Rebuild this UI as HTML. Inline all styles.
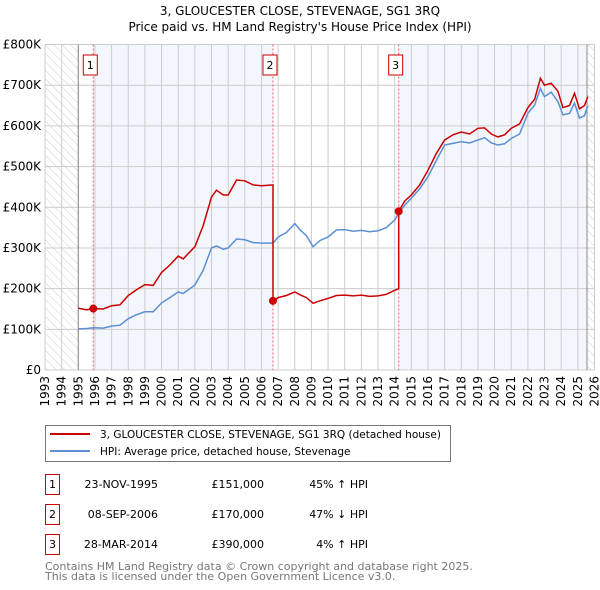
<!DOCTYPE html>
<html><head><meta charset="utf-8"><style>
body{margin:0;background:#fff;font-family:"DejaVu Sans","Liberation Sans",sans-serif;}
#wrap{position:relative;width:600px;height:590px;overflow:hidden;}
</style></head><body><div id="wrap">
<svg id="chart" width="600" height="590" xmlns="http://www.w3.org/2000/svg" font-family="DejaVu Sans, Liberation Sans, sans-serif"></svg>
</div>
<script>
const years=[1995.0,1995.5,1995.9,1996.5,1997.0,1997.5,1998.0,1998.5,1999.0,1999.5,2000.0,2000.5,2001.0,2001.3,2002.0,2002.5,2003.0,2003.3,2003.7,2004.0,2004.5,2005.0,2005.5,2006.0,2006.69,2006.69,2007.0,2007.5,2008.0,2008.3,2008.7,2009.1,2009.5,2010.0,2010.5,2011.0,2011.5,2012.0,2012.5,2013.0,2013.5,2014.0,2014.24,2014.24,2014.6,2015.0,2015.5,2016.0,2016.5,2017.0,2017.5,2018.0,2018.5,2019.0,2019.4,2019.8,2020.2,2020.6,2021.0,2021.5,2022.0,2022.4,2022.75,2023.0,2023.4,2023.8,2024.1,2024.5,2024.8,2025.1,2025.4,2025.6];
const hpiValues=[101,102,104,103,108,110,126,136,143,143,165,178,192,188,209,245,300,305,297,300,322,320,313,312,312,312,327,338,360,345,330,303,318,327,344,345,341,343,340,342,350,369,385,385,405,422,445,475,515,553,557,561,558,565,571,558,553,556,569,580,631,651,692,672,683,660,627,631,656,619,625,649];
const priceValues=[152,148,151,150,158,160,183,197,210,208,240,258,280,273,303,355,425,442,430,430,467,465,455,453,455,170,178,183,192,185,178,164,170,176,183,184,182,184,181,182,186,196,200,390,415,430,455,491,532,565,578,585,580,594,595,580,573,578,594,605,645,665,717,700,705,685,645,650,680,642,650,672];
const saleYears=[1995.9,2006.69,2014.24];
const salePrices=[151,170,390];
const saleLabels=["1","2","3"];
const yTicks=[0,100,200,300,400,500,600,700,800];
const yTickLabels=["£0","£100K","£200K","£300K","£400K","£500K","£600K","£700K","£800K"];
const xTickYears=[1993,1994,1995,1996,1997,1998,1999,2000,2001,2002,2003,2004,2005,2006,2007,2008,2009,2010,2011,2012,2013,2014,2015,2016,2017,2018,2019,2020,2021,2022,2023,2024,2025,2026];

const L=45,R=594.5,T=44.5,B=370;
const X=y=>L+(y-1993)*(R-L)/33;
const Y=v=>B-v*(B-T)/800;
const NS="http://www.w3.org/2000/svg";
const svg=document.getElementById('chart');
function el(tag,attrs,parent){const e=document.createElementNS(NS,tag);for(const k in attrs)e.setAttribute(k,attrs[k]);(parent||svg).appendChild(e);return e;}

const defs=el('defs',{});
const pat=el('pattern',{id:'hatch',width:6,height:6,patternUnits:'userSpaceOnUse',patternTransform:'rotate(-45)'},defs);
el('line',{x1:0,y1:0,x2:0,y2:6,stroke:'#ccc','stroke-width':1},pat);

let t=el('text',{x:300,y:15,'text-anchor':'middle','font-size':12,fill:'#000'});t.textContent='3, GLOUCESTER CLOSE, STEVENAGE, SG1 3RQ';

t=el('text',{x:300,y:31,'text-anchor':'middle','font-size':12,fill:'#000'});t.textContent="Price paid vs. HM Land Registry's House Price Index (HPI)";


let r=el('rect',{x:X(saleYears[0]),y:T,width:X(saleYears[1])-X(saleYears[0]),height:B-T,fill:'#eef3fc',opacity:0.7});

r=el('rect',{x:X(saleYears[2]),y:T,width:X(2025.55)-X(saleYears[2]),height:B-T,fill:'#eef3fc',opacity:0.7});

r=el('rect',{x:L,y:T,width:X(1995)-L,height:B-T,fill:'url(#hatch)'});

r=el('rect',{x:X(2025.55),y:T,width:R-X(2025.55),height:B-T,fill:'url(#hatch)'});


yTicks.forEach((v,i)=>{
 const g=el('line',{x1:L,x2:R,y1:Y(v),y2:Y(v),stroke:'#ccc','stroke-width':1});
 
 const lb=el('text',{x:L-4,y:Y(v)+4,'text-anchor':'end','font-size':12,fill:'#000'});lb.textContent=yTickLabels[i];
 
});
xTickYears.forEach(yr=>{
 const g=el('line',{x1:X(yr),x2:X(yr),y1:T,y2:B,stroke:'#ccc','stroke-width':1});
 
 const lb=el('text',{x:0,y:0,'text-anchor':'end','font-size':12,fill:'#000',transform:`translate(${X(yr)+4},${B+6}) rotate(-90)`});lb.textContent=yr;
 
});
let a=el('line',{x1:X(1995),x2:X(1995),y1:T,y2:B,stroke:'#888','stroke-width':1});

a=el('line',{x1:X(2025.55),x2:X(2025.55),y1:T,y2:B,stroke:'#888','stroke-width':1});


saleYears.forEach((sy,i)=>{
 const ln=el('line',{x1:X(sy),x2:X(sy),y1:T,y2:B,stroke:'#e06060','stroke-width':1,'stroke-dasharray':'2,2'});
 
 const bx=el('rect',{x:X(sy)-10,y:55,width:14,height:20,fill:'#fff',stroke:'#c00','stroke-width':1});
 
 const tx=el('text',{x:X(sy)-3,y:69,'text-anchor':'middle','font-size':11,fill:'#000'});tx.textContent=saleLabels[i];
 
});

const pts=vals=>vals.map((v,i)=>X(years[i]).toFixed(1)+','+Y(v).toFixed(1)).join(' ');
let p=el('polyline',{points:pts(hpiValues),fill:'none',stroke:'#5b8fd4','stroke-width':1.5});

p=el('polyline',{points:pts(priceValues),fill:'none',stroke:'#cc0000','stroke-width':1.5});

saleYears.forEach((sy,i)=>{
 const c=el('circle',{cx:X(sy),cy:Y(salePrices[i]),r:4,fill:'#cc0000'});
 
});

let g=el('g',{});
el('rect',{x:45.5,y:425.5,width:405,height:36,fill:'#fff',stroke:'#777','stroke-width':1},g);
let ln=el('line',{x1:50,x2:90,y1:434,y2:434,stroke:'#cc0000','stroke-width':2},g);

let lt=el('text',{x:100,y:438,'font-size':10.5,fill:'#000'},g);lt.textContent='3, GLOUCESTER CLOSE, STEVENAGE, SG1 3RQ (detached house)';

ln=el('line',{x1:50,x2:90,y1:451,y2:451,stroke:'#5b8fd4','stroke-width':2},g);

lt=el('text',{x:100,y:455,'font-size':10.5,fill:'#000'},g);lt.textContent='HPI: Average price, detached house, Stevenage';


const dates=["23-NOV-1995","08-SEP-2006","28-MAR-2014"];
const prices=["£151,000","£170,000","£390,000"];
const rels=["45% ↑ HPI","47% ↓ HPI","4% ↑ HPI"];
for(let i=0;i<3;i++){
 const cy=483+30*i;
 const b=el('rect',{x:45.5,y:cy-8.5,width:14,height:20,fill:'#fff',stroke:'#c00','stroke-width':1});
 
 let tt=el('text',{x:52.5,y:cy+5,'text-anchor':'middle','font-size':11});tt.textContent=saleLabels[i];
 
 tt=el('text',{x:158,y:cy+5,'text-anchor':'end','font-size':11});tt.textContent=dates[i];
 
 tt=el('text',{x:264,y:cy+5,'text-anchor':'end','font-size':11});tt.textContent=prices[i];
 
 tt=el('text',{x:368,y:cy+5,'text-anchor':'end','font-size':11});tt.textContent=rels[i];
 
}
let f=el('text',{x:45,y:570,'font-size':11,fill:'#777'});f.textContent='Contains HM Land Registry data © Crown copyright and database right 2025.';

f=el('text',{x:45,y:580,'font-size':11,fill:'#777'});f.textContent='This data is licensed under the Open Government Licence v3.0.';

</script></body></html>
